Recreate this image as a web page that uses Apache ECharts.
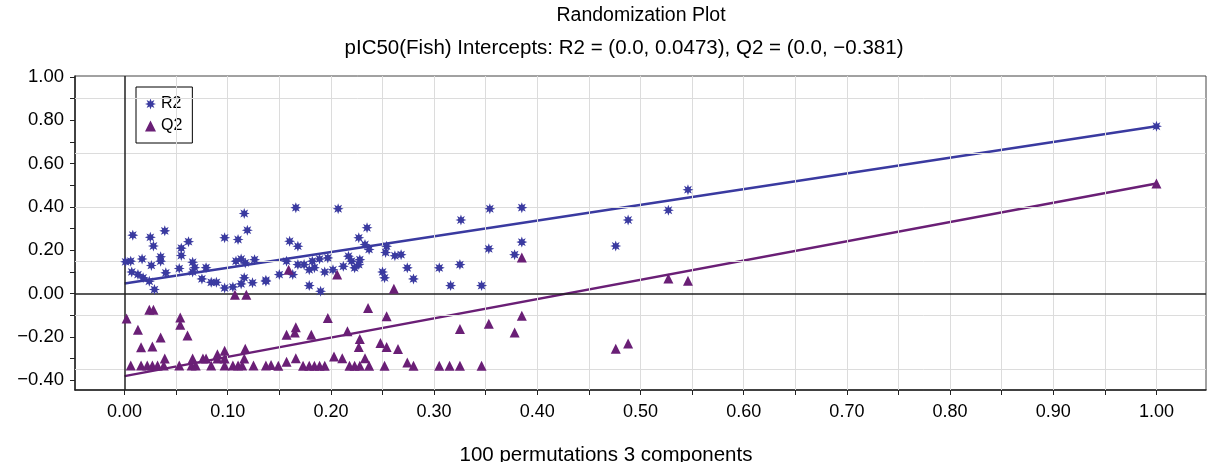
<!DOCTYPE html>
<html>
<head>
<meta charset="utf-8">
<script src="https://cdn.jsdelivr.net/npm/echarts@6/dist/echarts.min.js"></script>
<style>
html,body{margin:0;padding:0;background:#fff;}
#chart{width:1210px;height:462px;}
</style>
</head>
<body>
<div id="chart"></div>
<script>
// ---- data ----
const titleLine1 = 'Randomization Plot';
const titleLine2 = 'pIC50(Fish) Intercepts: R2 = (0.0, 0.0473), Q2 = (0.0, \u22120.381)';
const xAxisName = '100 permutations 3 components';
const seriesNames = ['R2', 'Q2'];

const xTickLabels = [0, 0.1, 0.2, 0.3, 0.4, 0.5, 0.6, 0.7, 0.8, 0.9, 1.0];
const xTicks = [0,0.05,0.1,0.15,0.2,0.25,0.3,0.35,0.4,0.45,0.5,0.55,0.6,0.65,0.7,0.75,0.8,0.85,0.9,0.95,1.0];
const yTickLabels = [-0.4, -0.2, 0, 0.2, 0.4, 0.6, 0.8, 1.0];
const yTicks = [-0.4,-0.3,-0.2,-0.1,0,0.1,0.2,0.3,0.4,0.5,0.6,0.7,0.8,0.9,1.0];
const xGrid = [0.05,0.1,0.15,0.2,0.25,0.3,0.35,0.4,0.45,0.5,0.55,0.6,0.65,0.7,0.75,0.8,0.85,0.9,0.95,1.0];
const yGrid = [-0.35,-0.10,0.15,0.40,0.65,0.90];

const r2Points = [
  [0.008,0.27],[0.025,0.26],[0.039,0.29],[0.028,0.22],[0.001,0.147],[0.006,0.15],[0.017,0.16],
  [0.035,0.17],[0.035,0.15],[0.026,0.13],[0.007,0.10],[0.013,0.088],[0.018,0.073],[0.024,0.057],
  [0.029,0.019],[0.040,0.096],[0.055,0.21],[0.062,0.24],[0.055,0.176],[0.053,0.116],[0.066,0.145],
  [0.068,0.12],[0.066,0.10],[0.079,0.12],[0.075,0.068],[0.084,0.052],[0.089,0.052],[0.097,0.026],
  [0.105,0.031],[0.097,0.258],[0.110,0.25],[0.116,0.37],[0.119,0.293],[0.108,0.15],[0.113,0.16],
  [0.117,0.142],[0.126,0.157],[0.116,0.073],[0.124,0.05],[0.137,0.057],[0.113,0.045],
  [0.166,0.397],[0.207,0.392],[0.235,0.304],[0.160,0.242],[0.168,0.219],[0.227,0.258],[0.233,0.227],
  [0.237,0.204],[0.254,0.219],[0.253,0.19],[0.262,0.175],[0.268,0.18],[0.157,0.15],[0.168,0.134],
  [0.174,0.134],[0.182,0.15],[0.189,0.16],[0.197,0.165],[0.179,0.11],[0.184,0.12],[0.194,0.10],
  [0.202,0.11],[0.217,0.173],[0.220,0.15],[0.228,0.157],[0.227,0.134],[0.223,0.119],[0.212,0.126],
  [0.163,0.088],[0.150,0.088],[0.137,0.062],[0.179,0.037],[0.190,0.011],[0.250,0.10],[0.252,0.073],
  [0.274,0.119],[0.280,0.068],[0.305,0.119],[0.326,0.34],[0.325,0.134],[0.316,0.037],[0.346,0.037],
  [0.354,0.392],[0.353,0.207],[0.385,0.397],[0.385,0.238],[0.378,0.18],
  [0.476,0.22],[0.488,0.34],[0.527,0.385],[0.546,0.48],[1.0,0.773]
];

const q2Points = [
  [0.002,-0.115],[0.024,-0.074],[0.028,-0.074],[0.013,-0.167],[0.035,-0.202],[0.016,-0.248],[0.027,-0.244],
  [0.054,-0.11],[0.054,-0.144],[0.061,-0.193],
  [0.006,-0.332],[0.016,-0.332],[0.022,-0.332],[0.027,-0.332],[0.032,-0.332],[0.038,-0.332],[0.053,-0.332],
  [0.065,-0.332],[0.069,-0.332],[0.084,-0.332],[0.097,-0.332],[0.105,-0.332],[0.110,-0.332],[0.114,-0.332],
  [0.125,-0.332],[0.137,-0.332],[0.142,-0.33],[0.149,-0.333],
  [0.039,-0.30],[0.066,-0.30],[0.076,-0.30],[0.079,-0.30],[0.090,-0.30],[0.097,-0.30],[0.116,-0.30],
  [0.097,-0.264],[0.117,-0.255],[0.09,-0.28],[0.157,-0.315],
  [0.107,-0.005],[0.118,-0.005],[0.159,0.11],
  [0.197,-0.113],[0.236,-0.066],[0.254,-0.105],[0.181,-0.19],[0.216,-0.174],[0.228,-0.21],[0.227,-0.247],
  [0.248,-0.228],[0.254,-0.247],[0.265,-0.256],[0.203,-0.29],[0.211,-0.298],[0.233,-0.298],[0.274,-0.318],
  [0.325,-0.163],[0.353,-0.139],[0.385,-0.102],[0.378,-0.179],
  [0.173,-0.333],[0.179,-0.333],[0.184,-0.333],[0.189,-0.333],[0.194,-0.333],[0.218,-0.333],[0.223,-0.333],
  [0.228,-0.333],[0.237,-0.333],[0.252,-0.333],[0.280,-0.333],[0.305,-0.333],[0.315,-0.333],[0.325,-0.333],
  [0.346,-0.333],
  [0.166,-0.298],[0.165,-0.18],[0.166,-0.155],[0.157,-0.19],
  [0.206,0.088],[0.261,0.022],[0.385,0.167],
  [0.476,-0.255],[0.488,-0.23],[0.527,0.07],[0.546,0.06],[1.0,0.509]
];

const r2Fit = [[0, 0.0473], [1.0, 0.773]];
const q2Fit = [[0, -0.381], [1.0, 0.509]];

// ---- chart ----
const R2_COLOR = '#3a3aa0';
const Q2_COLOR = '#6a1f76';
const FONT = 'Liberation Sans, Arial, sans-serif';
const STAR = 'path://M20 10 L14.62 11.91 L17.07 17.07 L11.91 14.62 L10 20 L8.09 14.62 L2.93 17.07 L5.38 11.91 L0 10 L5.38 8.09 L2.93 2.93 L8.09 5.38 L10 0 L11.91 5.38 L17.07 2.93 L14.62 8.09 Z';

function fmt(v) {
  return v.toFixed(2).replace('-', '\u2212');
}

const chart = echarts.init(document.getElementById('chart'), null, {renderer: 'canvas'});

const gridLineData = xGrid.map(v => ({xAxis: v})).concat(yGrid.map(v => ({yAxis: v})));

chart.setOption({
  animation: false,
  backgroundColor: '#fff',
  textStyle: {fontFamily: FONT},
  title: [
    {text: titleLine1, left: 636, top: 1, textAlign: 'center',
     textStyle: {fontSize: 19.5, fontWeight: 'normal', color: '#000', fontFamily: FONT}},
    {text: titleLine2, left: 619, top: 33, textAlign: 'center',
     textStyle: {fontSize: 20.5, fontWeight: 'normal', color: '#000', fontFamily: FONT}},
    {text: xAxisName, left: 601, top: 440, textAlign: 'center',
     textStyle: {fontSize: 20.5, fontWeight: 'normal', color: '#000', fontFamily: FONT}}
  ],
  legend: {
    orient: 'vertical',
    left: 136, top: 87,
    padding: [8, 10, 8, 9],
    itemGap: 4,
    itemWidth: 11, itemHeight: 11,
    borderColor: '#000', borderWidth: 1,
    backgroundColor: '#fff',
    textStyle: {fontSize: 16, color: '#000', fontFamily: FONT, lineHeight: 18},
    data: [
      {name: seriesNames[0], icon: STAR},
      {name: seriesNames[1], icon: 'triangle'}
    ]
  },
  grid: {left: 75, right: 4, top: 76, bottom: 72, show: true, borderColor: '#444', borderWidth: 1, backgroundColor: '#fff'},
  xAxis: {
    type: 'value',
    min: -0.048, max: 1.048,
    axisLine: {show: true, onZero: false, lineStyle: {color: '#222', width: 1.5}},
    axisTick: {show: true, length: 5, lineStyle: {color: '#222'}, customValues: xTicks},
    axisLabel: {show: true, customValues: xTickLabels, formatter: fmt, fontSize: 18, color: '#000', margin: 13, fontFamily: FONT},
    splitLine: {show: false}
  },
  yAxis: {
    type: 'value',
    min: -0.445, max: 1.005,
    axisLine: {show: true, onZero: false, lineStyle: {color: '#222', width: 1.5}},
    axisTick: {show: true, length: 5, lineStyle: {color: '#222'}, customValues: yTicks},
    axisLabel: {show: true, customValues: yTickLabels, formatter: fmt, fontSize: 18.5, color: '#000', margin: 11, fontFamily: FONT},
    splitLine: {show: false}
  },
  series: [
    {
      type: 'line', data: [], silent: true, z: 1, showSymbol: false,
      markLine: {
        silent: true, symbol: 'none', animation: false,
        label: {show: false},
        lineStyle: {color: '#dcdcdc', width: 1, type: 'solid'},
        data: gridLineData
      }
    },
    {
      type: 'line', data: [], silent: true, z: 2, showSymbol: false,
      markLine: {
        silent: true, symbol: 'none', animation: false,
        label: {show: false},
        lineStyle: {color: '#222', width: 1.5, type: 'solid'},
        data: [{xAxis: 0}, {yAxis: 0}]
      }
    },
    {
      name: seriesNames[0], type: 'scatter', data: r2Points, symbol: STAR, symbolSize: 11, z: 5,
      itemStyle: {color: R2_COLOR, opacity: 1}
    },
    {
      name: seriesNames[1], type: 'scatter', data: q2Points, symbol: 'triangle', symbolSize: 10, z: 5,
      itemStyle: {color: Q2_COLOR, opacity: 1}
    },
    {
      type: 'line', data: r2Fit, showSymbol: false, silent: true, z: 4,
      lineStyle: {color: R2_COLOR, width: 2.5}
    },
    {
      type: 'line', data: q2Fit, showSymbol: false, silent: true, z: 4,
      lineStyle: {color: Q2_COLOR, width: 2.5}
    }
  ]
});
</script>
</body>
</html>
